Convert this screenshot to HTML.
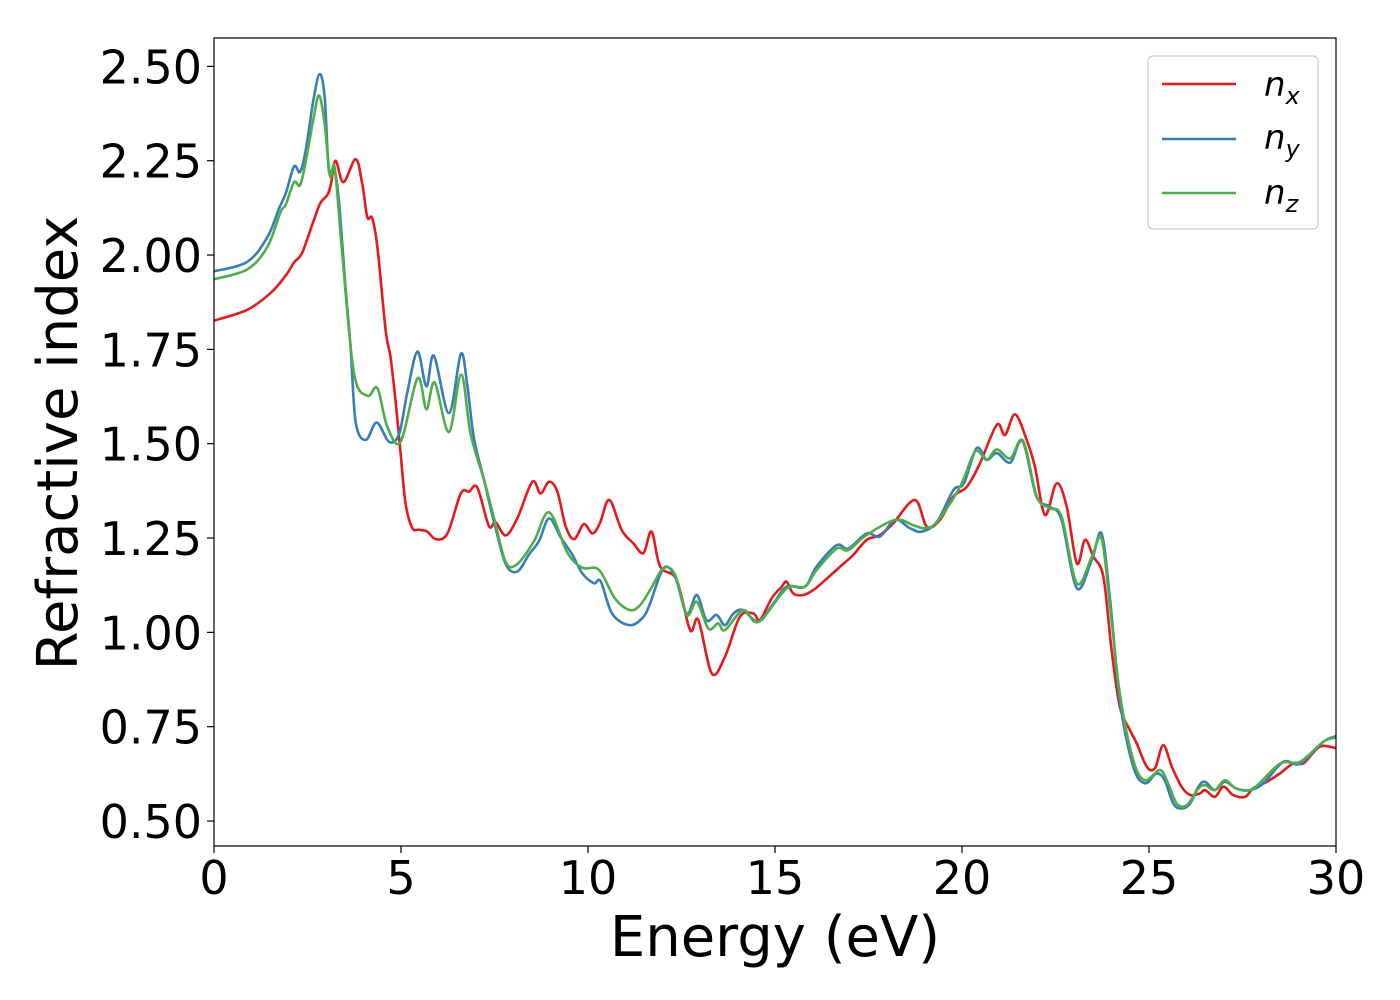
<!DOCTYPE html>
<html><head><meta charset="utf-8"><style>
html,body{margin:0;padding:0;background:#fff;}
svg{display:block;font-family:"DejaVu Sans","Liberation Sans",sans-serif;}
</style></head><body>
<svg id="chart" width="1400" height="1000" viewBox="0 0 1400 1000" xmlns="http://www.w3.org/2000/svg">
<rect x="0" y="0" width="1400" height="1000" fill="#fff"/>
<g id="series"></g>
<rect x="214" y="38" width="1122" height="808" fill="none" stroke="#000" stroke-width="1.2"/>
<g id="xticks"></g>
<g id="yticks"></g>
<text x="775" y="956" font-size="56" text-anchor="middle">Energy (eV)</text>
<text transform="translate(77,443) rotate(-90)" font-size="56" text-anchor="middle">Refractive index</text>
<g>
<rect x="1148" y="56" width="170" height="173" rx="5" fill="#fff" stroke="#ccc" stroke-width="1.2"/>
<line x1="1162" y1="84" x2="1236" y2="84" stroke="#e41a1c" stroke-width="2.6"/>
<text x="1264" y="96" font-size="34" font-style="italic">n<tspan font-size="24" dy="8">x</tspan></text>
<line x1="1162" y1="139" x2="1236" y2="139" stroke="#377eb8" stroke-width="2.6"/>
<text x="1264" y="149" font-size="34" font-style="italic">n<tspan font-size="24" dy="8">y</tspan></text>
<line x1="1162" y1="193" x2="1236" y2="193" stroke="#4daf4a" stroke-width="2.6"/>
<text x="1264" y="204" font-size="34" font-style="italic">n<tspan font-size="24" dy="8">z</tspan></text>
</g>
</svg>
<script>
const xTicks = [0, 5, 10, 15, 20, 25, 30];
const yTicks = [0.50, 0.75, 1.00, 1.25, 1.50, 1.75, 2.00, 2.25, 2.50];
const nxE = [0,0.89,1.52,1.92,2.14,2.36,2.67,2.85,3.03,3.12,3.25,3.46,3.79,3.97,4.10,4.23,4.37,4.59,4.72,4.86,4.99,5.12,5.30,5.48,5.70,5.93,6.24,6.60,6.82,7.04,7.35,7.53,7.80,8.11,8.51,8.73,8.96,9.18,9.40,9.63,9.89,10.12,10.32,10.57,10.90,11.21,11.48,11.70,11.93,12.37,12.73,12.95,13.31,13.66,14.06,14.42,14.60,14.91,15.18,15.31,15.49,15.76,16.02,16.29,16.74,17.09,17.45,17.81,18.16,18.74,19.06,19.41,19.77,20.13,20.48,20.93,21.15,21.42,21.73,21.95,22.22,22.53,22.80,23.07,23.29,23.51,23.78,24.00,24.22,24.49,24.67,24.94,25.16,25.38,25.61,25.87,26.10,26.36,26.50,26.76,26.99,27.25,27.57,27.79,28.15,28.50,28.86,29.13,29.57,30];
const nxV = [1.826,1.855,1.90,1.946,1.98,2.007,2.093,2.139,2.159,2.185,2.25,2.193,2.254,2.185,2.10,2.098,2.02,1.80,1.73,1.607,1.475,1.343,1.277,1.272,1.267,1.247,1.262,1.368,1.373,1.384,1.282,1.292,1.257,1.302,1.399,1.368,1.399,1.373,1.282,1.247,1.287,1.262,1.29,1.351,1.271,1.236,1.21,1.267,1.174,1.139,1.006,1.033,0.891,0.935,1.041,1.05,1.033,1.09,1.121,1.134,1.103,1.099,1.112,1.134,1.174,1.205,1.245,1.258,1.289,1.351,1.28,1.298,1.36,1.386,1.448,1.55,1.523,1.578,1.51,1.439,1.311,1.395,1.333,1.183,1.245,1.201,1.147,0.953,0.803,0.741,0.706,0.644,0.64,0.701,0.644,0.591,0.569,0.573,0.582,0.564,0.591,0.569,0.564,0.587,0.604,0.626,0.653,0.653,0.697,0.693];
const nyE = [0,0.89,1.43,1.74,1.92,2.14,2.30,2.45,2.67,2.83,2.96,3.07,3.21,3.34,3.52,3.65,3.79,4.06,4.35,4.68,4.95,5.17,5.44,5.68,5.88,6.28,6.60,6.77,6.95,7.22,7.49,7.80,8.11,8.42,8.69,8.96,9.27,9.58,9.85,10.16,10.34,10.65,11.12,11.48,11.66,12.02,12.33,12.64,12.91,13.17,13.44,13.66,13.89,14.15,14.56,14.96,15.31,15.80,16.11,16.65,16.96,17.45,17.81,18.21,18.61,18.93,19.33,19.77,20.05,20.39,20.66,20.93,21.29,21.62,21.99,22.35,22.66,23.07,23.47,23.73,23.96,24.22,24.58,24.89,25.20,25.42,25.65,25.87,26.10,26.32,26.50,26.76,27.03,27.34,27.70,28.06,28.59,29.04,29.66,30];
const nyV = [1.957,1.982,2.048,2.124,2.164,2.235,2.22,2.276,2.418,2.48,2.418,2.225,2.23,2.144,1.911,1.759,1.556,1.51,1.556,1.505,1.526,1.637,1.744,1.652,1.733,1.581,1.738,1.657,1.515,1.404,1.292,1.181,1.161,1.206,1.242,1.302,1.252,1.206,1.156,1.13,1.135,1.049,1.019,1.041,1.077,1.17,1.147,1.05,1.099,1.032,1.046,1.019,1.05,1.059,1.028,1.077,1.121,1.121,1.174,1.231,1.222,1.262,1.254,1.298,1.276,1.267,1.293,1.377,1.395,1.488,1.457,1.475,1.45,1.506,1.36,1.333,1.298,1.117,1.192,1.262,1.086,0.82,0.644,0.6,0.626,0.608,0.546,0.533,0.546,0.591,0.604,0.582,0.604,0.586,0.582,0.6,0.657,0.652,0.71,0.725];
const nzE = [0,0.89,1.43,1.78,1.92,2.14,2.30,2.45,2.67,2.81,2.96,3.10,3.23,3.43,3.74,4.10,4.37,4.63,4.99,5.44,5.68,5.90,6.28,6.61,6.86,7.22,7.49,7.80,8.11,8.56,8.96,9.45,9.85,10.29,10.72,11.12,11.39,11.66,12.02,12.33,12.64,12.91,13.22,13.48,13.66,14.15,14.56,15.31,15.80,16.11,16.65,16.96,17.45,18.21,18.70,19.01,19.33,19.95,20.35,20.66,20.93,21.29,21.63,22.00,22.35,22.66,23.07,23.47,23.73,23.96,24.22,24.58,24.89,25.29,25.51,25.74,26.01,26.32,26.50,26.76,27.03,27.34,27.79,28.50,29.04,29.66,30];
const nzV = [1.936,1.962,2.022,2.114,2.134,2.193,2.185,2.246,2.367,2.423,2.347,2.21,2.23,2.002,1.688,1.627,1.647,1.546,1.505,1.673,1.591,1.662,1.531,1.683,1.526,1.404,1.302,1.186,1.181,1.242,1.318,1.211,1.171,1.166,1.09,1.059,1.072,1.112,1.17,1.152,1.046,1.081,1.01,1.024,1.006,1.059,1.028,1.116,1.121,1.165,1.222,1.218,1.258,1.298,1.284,1.276,1.293,1.386,1.479,1.457,1.485,1.461,1.508,1.36,1.329,1.307,1.13,1.2,1.249,1.068,0.838,0.661,0.608,0.635,0.6,0.546,0.542,0.586,0.595,0.582,0.608,0.586,0.586,0.652,0.657,0.71,0.721];

const NS = "http://www.w3.org/2000/svg";
const X0 = 214, X1 = 1336, xMin = 0, xMax = 30;
const Y050 = 821, yPerUnit = 377.3;
function xScale(e){ return X0 + (e - xMin) / (xMax - xMin) * (X1 - X0); }
function yScale(v){ return Y050 - (v - 0.5) * yPerUnit; }

function smoothPath(es, vs){
  const p = es.map((e,i)=>[xScale(e), yScale(vs[i])]);
  let d = "M" + p[0][0].toFixed(1) + "," + p[0][1].toFixed(1);
  for (let i=0;i<p.length-1;i++){
    const a=p[Math.max(0,i-1)], b=p[i], c=p[i+1], n=p[Math.min(p.length-1,i+2)];
    const c1=[b[0]+(c[0]-a[0])/6, b[1]+(c[1]-a[1])/6];
    const c2=[c[0]-(n[0]-b[0])/6, c[1]-(n[1]-b[1])/6];
    d += " C"+c1[0].toFixed(1)+","+c1[1].toFixed(1)+" "+c2[0].toFixed(1)+","+c2[1].toFixed(1)+" "+c[0].toFixed(1)+","+c[1].toFixed(1);
  }
  return d;
}

const g = document.getElementById("series");
function addLine(es, vs, color, name){
  const path = document.createElementNS(NS, "path");
  path.setAttribute("d", smoothPath(es, vs));
  path.setAttribute("fill", "none");
  path.setAttribute("stroke", color);
  path.setAttribute("stroke-width", "2.6");
  path.setAttribute("stroke-linejoin", "round");
  
  
  g.appendChild(path);
}
addLine(nxE, nxV, "#e41a1c", "nx-line");
addLine(nyE, nyV, "#377eb8", "ny-line");
addLine(nzE, nzV, "#4daf4a", "nz-line");

const xg = document.getElementById("xticks");
xTicks.forEach(t=>{
  const x = xScale(t);
  const tk = document.createElementNS(NS, "line");
  tk.setAttribute("x1", x); tk.setAttribute("x2", x);
  tk.setAttribute("y1", 846); tk.setAttribute("y2", 853);
  tk.setAttribute("stroke", "#000"); tk.setAttribute("stroke-width", "1.2");
  
  
  xg.appendChild(tk);
  const tx = document.createElementNS(NS, "text");
  tx.setAttribute("x", x); tx.setAttribute("y", 894);
  tx.setAttribute("font-size", "46"); tx.setAttribute("text-anchor", "middle");
  tx.textContent = String(t);
  
  
  xg.appendChild(tx);
});
const yg = document.getElementById("yticks");
yTicks.forEach(t=>{
  const y = yScale(t);
  const tk = document.createElementNS(NS, "line");
  tk.setAttribute("x1", 207); tk.setAttribute("x2", 214);
  tk.setAttribute("y1", y); tk.setAttribute("y2", y);
  tk.setAttribute("stroke", "#000"); tk.setAttribute("stroke-width", "1.2");
  
  
  yg.appendChild(tk);
  const tx = document.createElementNS(NS, "text");
  tx.setAttribute("x", 202); tx.setAttribute("y", y + 17);
  tx.setAttribute("font-size", "46"); tx.setAttribute("text-anchor", "end");
  tx.textContent = t.toFixed(2);
  
  
  yg.appendChild(tx);
});
</script>
</body></html>
